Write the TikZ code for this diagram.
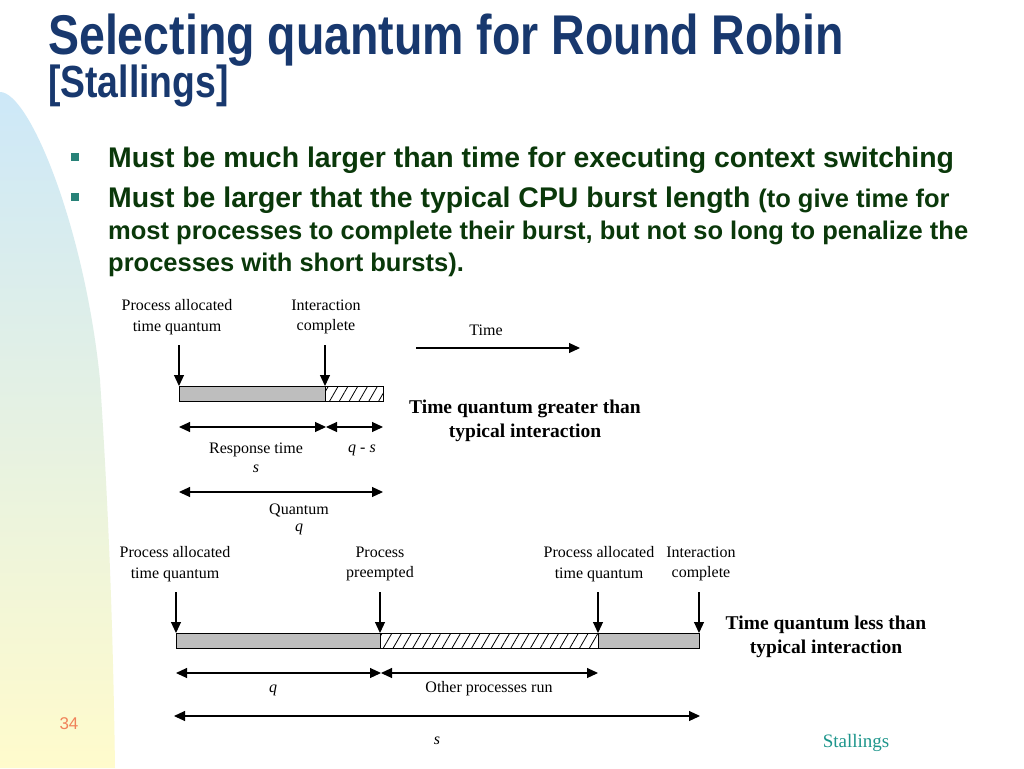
\documentclass[tikz,border=0pt]{standalone}
\usepackage{fontspec}
\setmainfont{Liberation Serif}
\newfontfamily\slidesans{Liberation Sans}
\usetikzlibrary{arrows.meta,patterns.meta}
\definecolor{titleblue}{RGB}{24,56,110}
\definecolor{bodygreen}{RGB}{10,56,10}
\definecolor{bullteal}{RGB}{40,130,120}
\definecolor{bgblue}{RGB}{205,232,248}
\definecolor{bgmid}{RGB}{228,242,224}
\definecolor{bgyellow}{RGB}{255,251,204}
\definecolor{barfill}{RGB}{190,190,190}
\definecolor{stalteal}{RGB}{30,150,140}
\definecolor{numorange}{RGB}{240,130,90}
\tikzset{
  lab/.style={font=\fontsize{16}{20.5}\selectfont, inner sep=0pt, align=center},
  ital/.style={font=\fontsize{16}{20.5}\selectfont\itshape, inner sep=0pt},
  boldlab/.style={font=\fontsize{19.5}{24}\selectfont\bfseries, inner sep=0pt, align=center},
  bar/.style={draw=black, line width=0.9pt, fill=barfill, minimum height=15pt, inner sep=0pt, outer sep=0pt, anchor=north west},
  hatchbar/.style={draw=black, line width=0.9pt, fill=white, pattern={Lines[angle=60,distance=8.5pt,line width=0.8pt]}, minimum height=15pt, inner sep=0pt, outer sep=0pt, anchor=north west},
  arr/.style={-{Triangle[length=11pt,width=10pt]}, line width=1.1pt},
  darr/.style={{Triangle[length=11pt,width=10pt]}-{Triangle[length=11pt,width=10pt]}, line width=1.1pt},
  titletext/.style={inner sep=0pt, anchor=base west, text=titleblue},
  bodytext/.style={inner sep=0pt, anchor=base west, text=bodygreen, font=\slidesans\bfseries},
  bull/.style={fill=bullteal, minimum size=8pt, inner sep=0pt},
}
\begin{document}
\begin{tikzpicture}[x=1pt,y=-1pt]
\useasboundingbox (0,0) rectangle (1024,768);
\fill[white] (0,0) rectangle (1024,768);
% left background shape
\shade[top color=bgblue, middle color=bgmid, bottom color=bgyellow]
  (0,92) .. controls (30,92) and (85,230) .. (100,380)
  .. controls (108,500) and (113,620) .. (115,768) -- (0,768) -- cycle;
% title
\node[titletext] (title) at (48,55) {\scalebox{0.83}[1]{\fontsize{56}{56}\selectfont\slidesans\bfseries Selecting quantum for Round Robin}};
\node[titletext] (sub) at (48,97) {\scalebox{0.83}[1]{\fontsize{45}{45}\selectfont\slidesans\bfseries [Stallings]}};
% bullets
\node[bull] (b1) at (75,157) {};
\node[bull] (b2) at (75,197) {};
\node[bodytext] (l1) at (108,167) {\fontsize{28.4}{28}\selectfont Must be much larger than time for executing context switching};
\node[bodytext] (l2) at (108,207) {\fontsize{28.4}{28}\selectfont Must be larger that the typical CPU burst length {\fontsize{25.5}{25.5}\selectfont (to give time for}};
\node[bodytext] (l3) at (108,239) {\fontsize{25.5}{25.5}\selectfont most processes to complete their burst, but not so long to penalize the};
\node[bodytext] (l4) at (108,271) {\fontsize{25.5}{25.5}\selectfont processes with short bursts).};

% ---------- upper diagram ----------
\node[lab] (uPA) at (177,317) {Process allocated\\time quantum};
\node[lab] (uIC) at (326,317) {Interaction\\complete};
\node[bar, minimum width=146pt] (uA) at (179,386) {};
\node[hatchbar, minimum width=58pt] (uB) at (325,386) {};
\coordinate (ua1) at (uA.north west |- 0,345);
\coordinate (ua2) at (uB.north west |- 0,345);
\draw[arr] (ua1) -- (uA.north west);
\draw[arr] (ua2) -- (uB.north west);
\coordinate (ur0) at (179,427);
\coordinate (ur1) at (326,427);
\coordinate (ur2) at (383,427);
\draw[darr] (ur0) -- (ur1);
\draw[darr] (ur1) -- (ur2);
\node[lab] (uRT) at (256,450) {Response time};
\node[ital] (uS) at (256,469) {s};
\node[ital] (uQS) at (362,450) {q - s};
\coordinate (uq0) at (179,492);
\coordinate (uq1) at (383,492);
\draw[darr] (uq0) -- (uq1);
\node[lab] (uQ) at (299,510) {Quantum};
\node[ital] (uQi) at (299,529) {q};
\node[lab] (time) at (486,330) {Time};
\coordinate (t0) at (416,348);
\coordinate (t1) at (580,348);
\draw[arr] (t0) -- (t1);
\node[boldlab] (uCap) at (525,421) {Time quantum greater than\\typical interaction};

% ---------- lower diagram ----------
\node[lab] (lPA1) at (175,564) {Process allocated\\time quantum};
\node[lab] (lPP) at (380,564) {Process\\preempted};
\node[lab] (lPA2) at (599,564) {Process allocated\\time quantum};
\node[lab] (lIC) at (701,564) {Interaction\\complete};
\node[bar, minimum width=204pt] (lA) at (176,633) {};
\node[hatchbar, minimum width=218pt] (lB) at (380,633) {};
\node[bar, minimum width=101pt] (lC) at (598,633) {};
\coordinate (la1) at (lA.north west |- 0,592);
\coordinate (la2) at (lB.north west |- 0,592);
\coordinate (la3) at (lC.north west |- 0,592);
\coordinate (la4) at (lC.north east |- 0,592);
\draw[arr] (la1) -- (lA.north west);
\draw[arr] (la2) -- (lB.north west);
\draw[arr] (la3) -- (lC.north west);
\draw[arr] (la4) -- (lC.north east);
\coordinate (lr0) at (176,673);
\coordinate (lr1) at (381,673);
\coordinate (lr2) at (598,673);
\draw[darr] (lr0) -- (lr1);
\draw[darr] (lr1) -- (lr2);
\node[ital] (lq) at (273,690) {q};
\node[lab] (lOP) at (489,689) {Other processes run};
\coordinate (ls0) at (174,716);
\coordinate (ls1) at (700,716);
\draw[darr] (ls0) -- (ls1);
\node[ital] (ls) at (437,741) {s};
\node[boldlab] (lCap) at (826,637) {Time quantum less than\\typical interaction};

% footer
\node[inner sep=0pt, text=stalteal, font=\fontsize{19}{19}\selectfont] (stal) at (856,743) {Stallings};
\node[inner sep=0pt, text=numorange, font=\slidesans\fontsize{17}{17}\selectfont] (num) at (69,724) {34};
\end{tikzpicture}
\end{document}
